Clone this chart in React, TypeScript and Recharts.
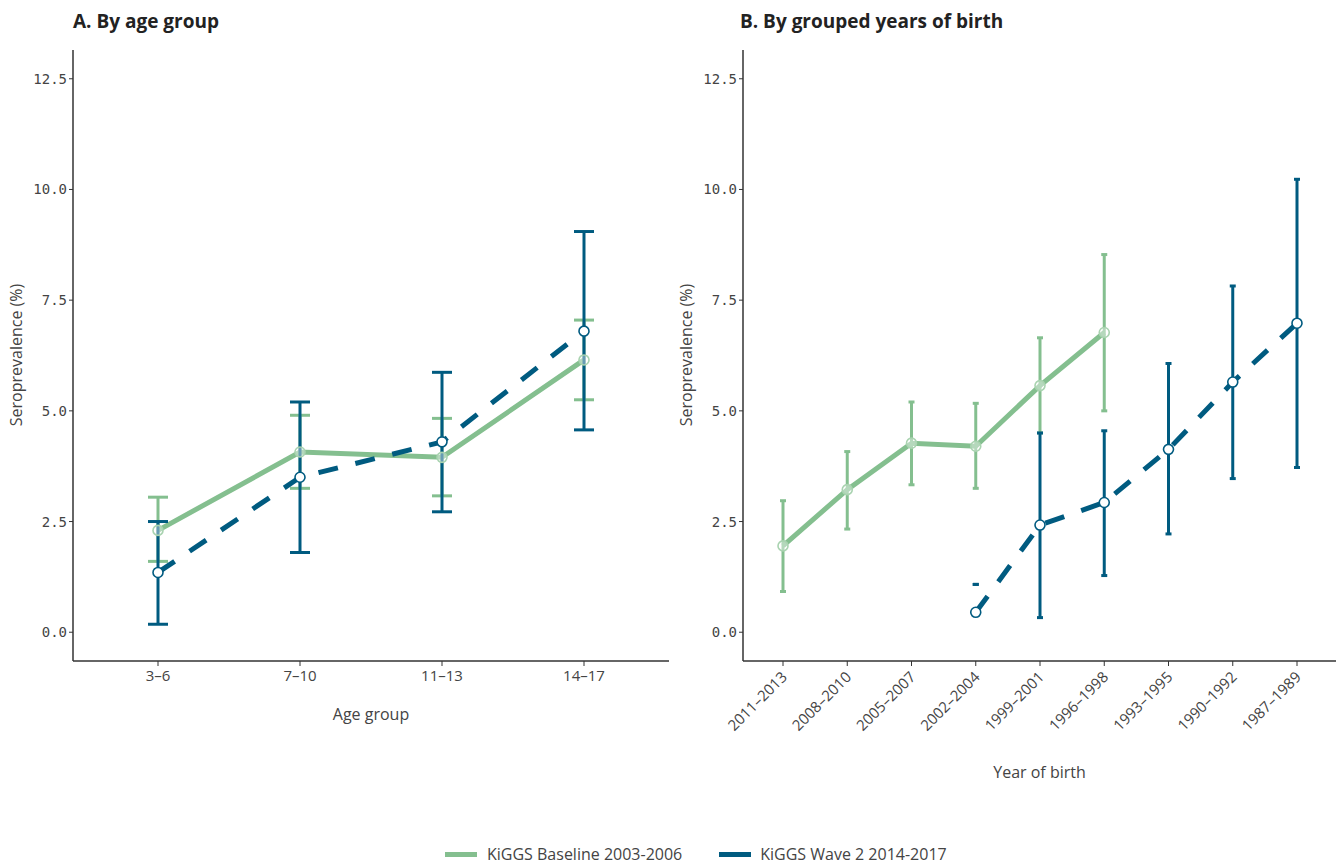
import { LineChart, Line, XAxis, YAxis, ErrorBar } from "recharts";

const GREEN = "#84bf8f";
const BLUE = "#005b80";
const AXIS = "#333333";

const ageGroups = ["3–6", "7–10", "11–13", "14–17"];
const ageBaseline = [2.3, 4.07, 3.95, 6.15];
const ageBaselineLow = [1.6, 3.25, 3.08, 5.25];
const ageBaselineHigh = [3.05, 4.9, 4.83, 7.05];
const ageWave2 = [1.35, 3.5, 4.3, 6.8];
const ageWave2Low = [0.18, 1.8, 2.72, 4.57];
const ageWave2High = [2.5, 5.2, 5.87, 9.05];

const birthGroups = [
  "2011–2013",
  "2008–2010",
  "2005–2007",
  "2002–2004",
  "1999–2001",
  "1996–1998",
  "1993–1995",
  "1990–1992",
  "1987–1989",
];
const birthBaseline = [1.95, 3.22, 4.27, 4.2, 5.57, 6.77, null, null, null];
const birthBaselineLow = [0.92, 2.33, 3.33, 3.25, 4.5, 5.0, null, null, null];
const birthBaselineHigh = [2.97, 4.08, 5.2, 5.17, 6.65, 8.53, null, null, null];
const birthWave2 = [null, null, null, 0.45, 2.42, 2.93, 4.13, 5.65, 6.98];
const birthWave2Low = [null, null, null, 1.08, 0.33, 1.28, 2.22, 3.47, 3.72];
const birthWave2High = [null, null, null, 1.08, 4.5, 4.55, 6.07, 7.82, 10.23];

const yTicks = [0, 2.5, 5, 7.5, 10, 12.5];

function build(
  cats: string[],
  base: (number | null)[],
  baseLo: (number | null)[],
  baseHi: (number | null)[],
  wave: (number | null)[],
  waveLo: (number | null)[],
  waveHi: (number | null)[]
) {
  return cats.map((c, i) => ({
    cat: c,
    base: base[i],
    baseErr:
      base[i] == null ? null : [base[i]! - baseLo[i]!, baseHi[i]! - base[i]!],
    wave: wave[i],
    waveErr:
      wave[i] == null ? null : [wave[i]! - waveLo[i]!, waveHi[i]! - wave[i]!],
  }));
}

const ageData = build(ageGroups, ageBaseline, ageBaselineLow, ageBaselineHigh, ageWave2, ageWave2Low, ageWave2High);
const birthData = build(birthGroups, birthBaseline, birthBaselineLow, birthBaselineHigh, birthWave2, birthWave2Low, birthWave2High);

const monoFont = "'DejaVu Sans Mono', monospace";
const sansFont = "'Open Sans', 'Noto Sans', sans-serif";

const YLabel = () => (
  <text
    x={22}
    y={355}
    transform="rotate(-90 22 355)"
    textAnchor="middle"
    fontFamily={sansFont}
    fontSize={16}
    fill="#444"
  >
    Seroprevalence (%)
  </text>
);

const RotatedTick = (props: any) => {
  const { x, y, payload } = props;
  return (
    <text
      x={x + 5}
      y={y + 10}
      transform={`rotate(-45 ${x + 5} ${y + 10})`}
      textAnchor="end"
      fontFamily={sansFont}
      fontSize={15}
      fill="#444"
    >
      {payload.value}
    </text>
  );
};

function Panel({
  data,
  width,
  padding,
  capWidth,
  rotated,
  xLabel,
  xLabelOffset,
}: {
  data: any[];
  width: number;
  padding: { left: number; right: number };
  capWidth: number;
  rotated: boolean;
  xLabel: string;
  xLabelOffset: number;
}) {
  return (
    <LineChart
      width={width}
      height={800}
      data={data}
      margin={{ top: 50, right: 0, bottom: 0, left: 0 }}
    >
      <XAxis
        dataKey="cat"
        padding={padding}
        height={139}
        axisLine={{ stroke: AXIS, strokeWidth: 1.5 }}
        tickLine={{ stroke: AXIS }}
        tickSize={5}
        interval={0}
        tick={
          rotated
            ? <RotatedTick />
            : { fontFamily: sansFont, fontSize: 15, fill: "#444", dy: 2 }
        }
        label={{
          value: xLabel,
          position: "insideBottom",
          offset: xLabelOffset,
          fontFamily: sansFont,
          fontSize: 16,
          fill: "#444",
        }}
      />
      <YAxis
        width={73}
        domain={[-0.65, 13.15]}
        ticks={yTicks}
        allowDataOverflow
        tickFormatter={(v: number) => v.toFixed(1)}
        axisLine={{ stroke: AXIS, strokeWidth: 1.5 }}
        tickLine={{ stroke: AXIS }}
        tickSize={4}
        tick={{ fontFamily: monoFont, fontSize: 14, fill: "#444" }}
        label={<YLabel />}
      />
      <Line
        dataKey="base"
        stroke={GREEN}
        strokeWidth={5}
        dot={{ r: 5, stroke: "#a9d3b0", strokeWidth: 1.6, fill: "#ffffff", fillOpacity: 0.4 }}
        activeDot={false}
        isAnimationActive={false}
      >
        <ErrorBar dataKey="baseErr" width={capWidth} stroke={GREEN} strokeWidth={3} direction="y" />
      </Line>
      <Line
        dataKey="wave"
        stroke={BLUE}
        strokeWidth={5}
        strokeDasharray="20 18"
        dot={{ r: 5, stroke: BLUE, strokeWidth: 1.6, fill: "#ffffff", strokeDasharray: "" }}
        activeDot={false}
        isAnimationActive={false}
      >
        <ErrorBar dataKey="waveErr" width={capWidth} stroke={BLUE} strokeWidth={3} direction="y" />
      </Line>
    </LineChart>
  );
}

const titleStyle: React.CSSProperties = {
  position: "absolute",
  top: 8,
  fontFamily: sansFont,
  fontWeight: 700,
  fontSize: 19,
  color: "#222",
  whiteSpace: "nowrap",
};

export default function App() {
  return (
    <div style={{ position: "absolute", left: 0, top: 0, width: 1341, height: 865, background: "#fff" }}>
      <div style={{ ...titleStyle, left: 73 }}>A. By age group</div>
      <div style={{ ...titleStyle, left: 740 }}>B. By grouped years of birth</div>
      <div style={{ position: "absolute", left: 0, top: 0 }}>
        <Panel
          data={ageData}
          width={669}
          padding={{ left: 85, right: 85 }}
          capWidth={10}
          rotated={false}
          xLabel="Age group"
          xLabelOffset={80}
        />
      </div>
      <div style={{ position: "absolute", left: 670, top: 0 }}>
        <Panel
          data={birthData}
          width={666}
          padding={{ left: 40, right: 39 }}
          capWidth={3}
          rotated
          xLabel="Year of birth"
          xLabelOffset={22}
        />
      </div>
      <div
        style={{
          position: "absolute",
          top: 843,
          left: 445,
          display: "flex",
          gap: 37,
          fontFamily: sansFont,
          fontSize: 16,
          color: "#444",
          whiteSpace: "nowrap",
        }}
      >
        <div style={{ display: "flex", alignItems: "center", gap: 10 }}>
          <span style={{ display: "inline-block", width: 32, height: 5, background: GREEN }} />
          KiGGS Baseline 2003-2006
        </div>
        <div style={{ display: "flex", alignItems: "center", gap: 9 }}>
          <span style={{ display: "inline-block", width: 32, height: 5, background: BLUE }} />
          KiGGS Wave 2 2014-2017
        </div>
      </div>
    </div>
  );
}
